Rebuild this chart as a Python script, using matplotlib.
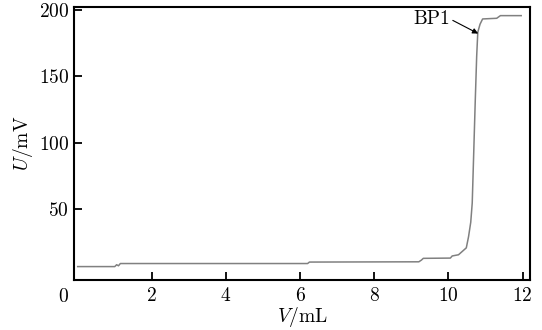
import matplotlib
matplotlib.use("Agg")
import matplotlib.pyplot as plt

plt.rcParams["font.family"] = "serif"
plt.rcParams["font.serif"] = ["cmr10", "DejaVu Serif"]
plt.rcParams["mathtext.fontset"] = "cm"
plt.rcParams["axes.formatter.use_mathtext"] = True

# titration curve
vol = [0.0, 1.0, 1.05, 1.1, 1.15, 6.2, 6.25, 9.2, 9.27, 9.32, 10.05, 10.1, 10.27,
       10.48, 10.54, 10.6, 10.64, 10.68, 10.72, 10.76, 10.79, 10.85, 10.92,
       11.3, 11.4, 11.96]
volt = [6.6, 6.6, 8.0, 7.2, 8.9, 8.9, 10.0, 10.2, 11.5, 12.8, 13.0, 14.6, 15.5,
        20.7, 29.0, 40.0, 54.5, 92.0, 130.0, 165.0, 183.0, 189.0, 193.0,
        193.5, 195.5, 195.5]
xticks = [2, 4, 6, 8, 10, 12]
yticks = [50, 100, 150, 200]

fig = plt.figure(figsize=(5.42, 3.30), dpi=100)
ax = fig.add_axes([0.1365, 0.1515, 0.8415, 0.8273])
ax.plot(vol, volt, color="#808080", lw=1.1)

ax.set_xlim(-0.1, 12.2)
ax.set_ylim(-3.5, 202)
ax.set_xticks(xticks)
ax.set_yticks(yticks)
ax.tick_params(direction="in", length=6, width=1.3, labelsize=14)
ax.tick_params(axis="x", pad=5)
for s in ax.spines.values():
    s.set_linewidth(1.5)
ax.text(-0.014, -0.03, "0", transform=ax.transAxes, ha="right", va="top", fontsize=14)

ax.set_xlabel("$V$/mL", fontsize=14, labelpad=0)
ax.set_ylabel("$U$/mV", fontsize=14, labelpad=3)

ax.annotate("BP1", xy=(10.8, 182), xytext=(9.05, 193),
            fontsize=14, ha="left", va="center",
            arrowprops=dict(arrowstyle="-|>", color="black", lw=0.8,
                            mutation_scale=8, shrinkA=0, shrinkB=0,
                            relpos=(1.0, 0.5)))

fig.savefig("out.png", dpi=100)
